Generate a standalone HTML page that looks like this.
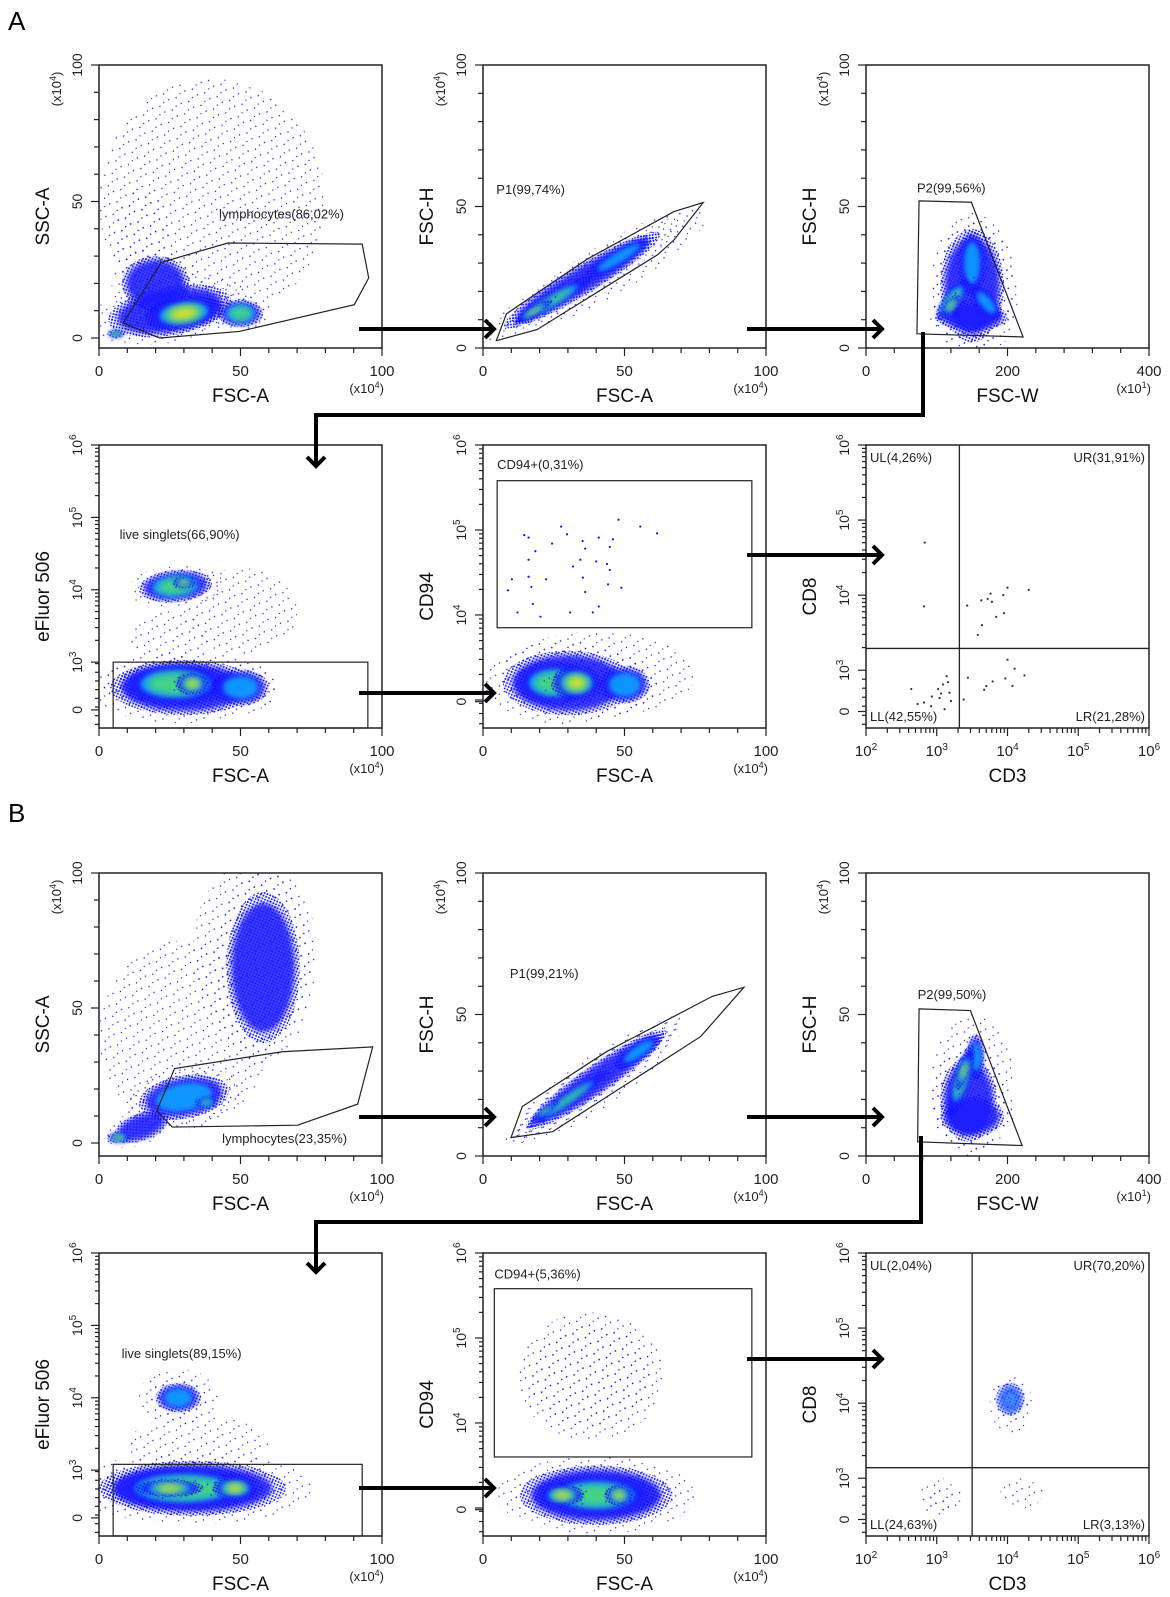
<!DOCTYPE html>
<html><head><meta charset="utf-8"><style>
html,body{margin:0;padding:0;background:#fff}
svg{display:block;font-family:"Liberation Sans",Arial,sans-serif}
</style></head><body>
<svg id="fig" width="1170" height="1597" viewBox="0 0 1170 1597" xmlns="http://www.w3.org/2000/svg">
<defs>
<pattern id="sparse" width="13" height="13" patternUnits="userSpaceOnUse" patternTransform="rotate(17)"><circle cx="2" cy="3" r="0.7" fill="#1010ff"/><circle cx="8.5" cy="7" r="0.7" fill="#1010ff"/><circle cx="4.5" cy="11" r="0.65" fill="#1010ff"/></pattern>
<pattern id="dense" width="3" height="3" patternUnits="userSpaceOnUse" patternTransform="rotate(23)"><circle cx="1.5" cy="1.5" r="0.95" fill="#0a0aff"/></pattern>
<filter id="blur2" x="-50%" y="-50%" width="200%" height="200%"><feGaussianBlur stdDeviation="2.5"/></filter>
<filter id="blur4" x="-50%" y="-50%" width="200%" height="200%"><feGaussianBlur stdDeviation="4"/></filter>
</defs>
<text x="8" y="30" font-size="26">A</text>
<text x="8" y="822" font-size="26">B</text>
<g id="panels"></g>
<g id="arrows" fill="none" stroke="#000" stroke-width="4"></g>
</svg>
<script>
// ---- data (cluster: [cx, cy, rx, ry, angle, peakLevel]) ----
const a1Clusters=[[40,50,40,45,0,0],[15,35,10,20,0,0],[25,10,22,9,-10,1],[20,20,12,10,0,1],[30,9,14,6,-8,4],[50,9,8,5,0,3],[6,1.5,3,1.5,0,4]];
const a1Gate=[[8.5,5.5],[22,27.7],[45.5,34.8],[93,34.4],[95.3,22],[90.2,12.2],[49.6,2.4],[21.4,0]];
const a2Clusters=[[45,28,40,9,-31,0],[35,24,32,5,-31,1],[48,32,14,3,-31,2],[25,17,16,2.5,-31,3],[18,13,8,1.5,-31,4]];
const a2Gate=[[4.7,2.6],[8.3,12.1],[36.8,31.4],[67.5,48.2],[77.8,51.4],[67.5,38.2],[61.6,32.9],[19.1,6.5]];
const a3Clusters=[[155,20,60,25,0,0],[150,22,45,20,0,1],[150,11,50,5,0,1],[150,30,18,12,0,2],[170,16,30,3,50,2],[122,17,37,3,-53,3],[120,15,18,2,-53,4]];
const a3Gate=[[75,52],[149,51.5],[222,3.9],[72,5]];
const a4Clusters=[[25,3.35,14,0.35,0,0],[50,3.7,20,0.6,0,0],[30,2.65,26,0.38,0,1],[27,4.05,13,0.22,-5,3],[30,4.1,4,0.08,0,4],[27,2.7,20,0.3,0,3],[50,2.65,10,0.25,0,2],[33,2.7,6,0.15,0,4]];
const a4Gate=[5,95,2.09,3.0];
const a5Clusters=[[40,3.3,35,0.5,0,0],[30,3.2,23,0.38,0,1],[25,3.2,14,0.25,0,3],[50,3.18,9,0.22,0,2],[33,3.2,9,0.2,0,4]];
const a5Gate=[5,95,3.85,5.58];
const a5Points=[[14.6,4.94],[16.1,4.91],[27.6,5.04],[29.7,4.95],[24.4,4.84],[18.5,4.75],[16.1,4.65],[10.2,4.42],[8.8,4.29],[16.1,4.45],[17.1,4.33],[22.3,4.42],[17.6,4.13],[12.2,4.03],[20.3,3.98],[30.8,4.03],[31.8,4.57],[34.4,4.65],[35.2,4.87],[36.1,4.78],[35.3,4.44],[36.1,4.27],[40.9,4.91],[40.0,4.63],[43.8,4.6],[44.8,4.8],[45.9,4.89],[47.9,5.12],[44.2,4.36],[48.9,4.32],[40.9,4.1],[38.8,4.03],[55.6,5.04],[61.5,4.96],[44.8,4.53]];
const a6Points=[[2.83,4.70],[2.82,3.85],[3.43,3.86],[3.63,3.93],[3.64,3.6],[3.58,3.47],[3.72,3.95],[3.76,4.02],[3.78,3.91],[3.84,3.71],[3.94,4.0],[3.95,3.76],[4.0,4.1],[4.3,4.07],[3.44,2.9],[4.0,3.14],[4.1,3.02],[4.24,2.93],[3.97,2.89],[3.79,2.85],[3.7,2.79],[3.67,2.74],[3.38,2.61],[4.07,2.79],[2.64,2.75],[2.73,2.55],[2.82,2.57],[2.93,2.65],[3.02,2.75],[3.06,2.69],[3.09,2.81],[3.14,2.92],[3.16,2.84],[3.18,2.7],[3.2,2.59],[3.11,2.48],[3.04,2.63],[2.92,2.52]];
const a6Quad=[3.32,3.29];
const a6Labels=["UL(4,26%)","UR(31,91%)","LL(42,55%)","LR(21,28%)"];
const b1Clusters=[[30,40,30,35,0,0],[55,70,22,35,0,0],[58,65,13,28,0,1],[15,6,10,5,-20,1],[30,17,16,8,-10,2],[38,15,4,2,0,3],[7,2,4,2,0,4]];
const b1Gate=[[20.4,11.9],[26.7,27.6],[64.7,33.8],[96.7,35.6],[91.4,14.4],[70.2,6.6],[25.9,5.9]];
const b2Clusters=[[40,26,36,9,-35,0],[40,27,30,5,-35,1],[55,37,10,3,-35,2],[30,20,18,2,-35,3],[22,16,6,1,-35,4]];
const b2Gate=[[9.9,6.5],[13.9,17.5],[43.7,36.9],[81,56.4],[92.2,59.6],[76.9,42.2],[24.6,8.6]];
const b3Clusters=[[150,25,60,25,0,0],[145,20,40,15,0,1],[150,14,45,7,0,1],[155,35,12,8,0,2],[135,27,52,3,-73,3],[138,30,30,1.8,-73,4]];
const b3Gate=[[75,52],[147.6,51.4],[220.7,3.7],[73,5]];
const b4Clusters=[[28,4.0,14,0.4,0,0],[35,3.35,25,0.4,0,0],[33,2.75,33,0.38,0,1],[28,4.0,8,0.2,0,2],[30,2.75,28,0.3,0,3],[48,2.75,8,0.15,0,4],[25,2.75,12,0.12,0,4]];
const b4Gate=[5,93,2.09,3.08];
const b5Clusters=[[38,4.55,26,0.75,0,0],[38,4.55,22,0.6,0,0],[40,3.15,27,0.35,0,1],[40,3.15,22,0.25,0,3],[48,3.15,5,0.12,0,4],[28,3.15,8,0.12,0,4]];
const b5Gate=[4,95,3.6,5.58];
const b6Clusters=[[4.05,4.0,0.3,0.4,0,0],[3.05,2.75,0.3,0.25,0,0],[3.05,2.7,0.2,0.15,0,0],[4.2,2.8,0.3,0.2,0,0],[4.04,4.05,0.2,0.22,0,1],[4.04,4.05,0.1,0.12,0,2],[4.04,4.05,0.04,0.05,0,3]];
const b6Quad=[3.5,3.14];
const b6Labels=["UL(2,04%)","UR(70,20%)","LL(24,63%)","LR(3,13%)"];
const linTicks=[0,50,100];
const fswTicks=[0,200,400];
const logTicks=[3,4,5,6];
const cd3Ticks=[2,3,4,5,6];

// ---- layout ----
const C=[[99,382],[483,766],[866,1149]];
const Rw=[[65,348],[445,728],[873,1156],[1253,1536]];
const LINX={type:'lin',max:100},FSWX={type:'lin',max:400},CD3X={type:'log',min:2,max:6};
const linY=o=>({type:'lin',off:o});
const logY=(mn,z)=>({type:'log',min:mn,zero:z});
const panels=[
 {id:'a1',c:0,r:0,x:LINX,y:linY(10),xt:'FSC-A',yt:'SSC-A',cl:a1Clusters,poly:a1Gate,gl:[42.4,43.7,'lymphocytes(86,02%)']},
 {id:'a2',c:1,r:0,x:LINX,y:linY(0),xt:'FSC-A',yt:'FSC-H',cl:a2Clusters,poly:a2Gate,gl:[4.7,54.5,'P1(99,74%)']},
 {id:'a3',c:2,r:0,x:FSWX,y:linY(0),xt:'FSC-W',yt:'FSC-H',cl:a3Clusters,poly:a3Gate,gl:[72,55,'P2(99,56%)']},
 {id:'a4',c:0,r:1,x:LINX,y:logY(2.09,2.34),xt:'FSC-A',yt:'eFluor 506',cl:a4Clusters,rect:a4Gate,gl:[7.3,4.7,'live singlets(66,90%)']},
 {id:'a5',c:1,r:1,x:LINX,y:logY(2.67,2.98),xt:'FSC-A',yt:'CD94',cl:a5Clusters,pts:a5Points,rect:a5Gate,gl:[5,5.72,'CD94+(0,31%)']},
 {id:'a6',c:2,r:1,x:CD3X,y:logY(2.23,2.45),xt:'CD3',yt:'CD8',cl:[],pts:a6Points,ptColor:'#333',quad:a6Quad,ql:a6Labels},
 {id:'b1',c:0,r:2,x:LINX,y:linY(13),xt:'FSC-A',yt:'SSC-A',cl:b1Clusters,poly:b1Gate,gl:[43.5,0,'lymphocytes(23,35%)']},
 {id:'b2',c:1,r:2,x:LINX,y:linY(0),xt:'FSC-A',yt:'FSC-H',cl:b2Clusters,poly:b2Gate,gl:[9.5,62.9,'P1(99,21%)']},
 {id:'b3',c:2,r:2,x:FSWX,y:linY(0),xt:'FSC-W',yt:'FSC-H',cl:b3Clusters,poly:b3Gate,gl:[73,55.5,'P2(99,50%)']},
 {id:'b4',c:0,r:3,x:LINX,y:logY(2.09,2.34),xt:'FSC-A',yt:'eFluor 506',cl:b4Clusters,rect:b4Gate,gl:[8,4.55,'live singlets(89,15%)']},
 {id:'b5',c:1,r:3,x:LINX,y:logY(2.67,2.98),xt:'FSC-A',yt:'CD94',cl:b5Clusters,rect:b5Gate,gl:[4,5.7,'CD94+(5,36%)']},
 {id:'b6',c:2,r:3,x:CD3X,y:logY(2.23,2.45),xt:'CD3',yt:'CD8',cl:b6Clusters,quad:b6Quad,ql:b6Labels,light:true}
];
const NS='http://www.w3.org/2000/svg';
function mk(tag,attrs,parent){const e=document.createElementNS(NS,tag);for(const k in attrs)e.setAttribute(k,attrs[k]);if(parent)parent.appendChild(e);return e;}
const root=document.getElementById('panels');

panels.forEach(p=>{
 const L=C[p.c][0],R=C[p.c][1],T=Rw[p.r][0],B=Rw[p.r][1];
 const sx=v=>p.x.type==='lin'?L+v/p.x.max*(R-L):L+(v-p.x.min)/(p.x.max-p.x.min)*(R-L);
 const sy=v=>p.y.type==='lin'?(B-p.y.off)-v/100*(B-p.y.off-T):B-(v-p.y.min)/(6-p.y.min)*(B-T);
 const g=mk('g',{},root);
 
 
 const cp=mk('clipPath',{id:'clip-'+p.id},g);mk('rect',{x:L,y:T,width:R-L,height:B-T},cp);
 const dg=mk('g',{'clip-path':'url(#clip-'+p.id+')'},g);
 
 
 const pal=p.light?['#3a70ff','#3fa8ff','#60d8a0','#e8e040']:['#1a1aff','#10a0ff','#50e070','#f0e020'];
 p.cl.forEach(c=>{
  const cx=sx(c[0]),cy=sy(c[1]);
  const rx=Math.abs(sx(c[0]+c[2])-cx),ry=Math.abs(sy(c[1]+c[3])-cy);
  const tr='rotate('+c[4]+' '+cx+' '+cy+')';
  const cg=mk('g',{transform:tr},dg);
  
  
  if(c[5]===0){mk('ellipse',{cx:cx,cy:cy,rx:rx,ry:ry,fill:'url(#sparse)'},cg);return;}
  mk('ellipse',{cx:cx,cy:cy,rx:rx*1.3,ry:ry*1.3,fill:'url(#sparse)'},cg);
  mk('ellipse',{cx:cx,cy:cy,rx:rx,ry:ry,fill:'url(#dense)'},cg);
  mk('ellipse',{cx:cx,cy:cy,rx:rx*0.85,ry:ry*0.85,fill:pal[0],opacity:0.85,filter:'url(#blur2)'},cg);
  if(c[5]>=2)mk('ellipse',{cx:cx,cy:cy,rx:rx*0.62,ry:ry*0.62,fill:pal[1],opacity:0.9,filter:'url(#blur2)'},cg);
  if(c[5]>=3)mk('ellipse',{cx:cx,cy:cy,rx:rx*0.5,ry:ry*0.5,fill:pal[2],opacity:0.85,filter:'url(#blur4)'},cg);
  if(c[5]>=4)mk('ellipse',{cx:cx,cy:cy,rx:rx*0.35,ry:ry*0.35,fill:pal[3],opacity:0.9,filter:'url(#blur4)'},cg);
 });
 (p.pts||[]).forEach(pt=>{
  const d=mk('circle',{cx:sx(pt[0]),cy:sy(pt[1]),r:1.1,fill:p.ptColor||'#1010ff'},dg);
  
  
 });
 const bx=mk('rect',{x:L,y:T,width:R-L,height:B-T,fill:'none',stroke:'#222','stroke-width':1.5},g);
 
 
 if(p.poly){const gp=mk('polygon',{points:p.poly.map(q=>sx(q[0])+','+sy(q[1])).join(' '),fill:'none',stroke:'#222','stroke-width':1.2},g);
  
  }
 if(p.rect){const r=p.rect;const y1=sy(r[3]),y0=Math.min(sy(r[2]),B);
  const gr=mk('rect',{x:sx(r[0]),y:y1,width:sx(r[1])-sx(r[0]),height:y0-y1,fill:'none',stroke:'#222','stroke-width':1.2},g);
  
  }
 if(p.gl){const t=mk('text',{x:sx(p.gl[0]),y:sy(p.gl[1]),'font-size':13,fill:'#222'},g);t.textContent=p.gl[2];
  
  }
 if(p.quad){
  const qx=sx(p.quad[0]),qy=sy(p.quad[1]);
  const l1=mk('line',{x1:qx,y1:T,x2:qx,y2:B,stroke:'#222','stroke-width':1.3},g);
  
  
  const l2=mk('line',{x1:L,y1:qy,x2:R,y2:qy,stroke:'#222','stroke-width':1.3},g);
  
  
  const pos=[[L+4,T+17,'start'],[R-4,T+17,'end'],[L+4,B-7,'start'],[R-4,B-7,'end']];
  p.ql.forEach((s,i)=>{const t=mk('text',{x:pos[i][0],y:pos[i][1],'text-anchor':pos[i][2],'font-size':13,fill:'#222'},g);t.textContent=s;
   
   });
 }
 const ax=mk('g',{stroke:'#222','stroke-width':1.2},g);
 
 
 if(p.x.type==='lin'){
  const step=p.x.max/10;
  for(let i=0;i<=10;i++){const x=sx(i*step);mk('line',{x1:x,y1:B,x2:x,y2:B+(i%5===0?8:5)},ax);}
  (p.x.max===400?fswTicks:linTicks).forEach(v=>{const t=mk('text',{x:sx(v),y:B+28,'text-anchor':'middle','font-size':15,fill:'#222',stroke:'none'},g);t.textContent=v;
   
   });
  const m=mk('text',{x:R+2,y:B+45,'text-anchor':'end','font-size':13,fill:'#222'},g);
  m.innerHTML='(x10<tspan font-size="9" dy="-5">'+(p.x.max===400?1:4)+'</tspan><tspan dy="5">)</tspan>';
  
  
 } else {
  for(let d=2;d<6;d++)for(let k=1;k<10;k++){const x=sx(d+Math.log10(k));mk('line',{x1:x,y1:B,x2:x,y2:B+(k===1?8:5)},ax);}
  mk('line',{x1:R,y1:B,x2:R,y2:B+8},ax);
  cd3Ticks.forEach(v=>{const t=mk('text',{x:sx(v),y:B+28,'text-anchor':'middle','font-size':15,fill:'#222',stroke:'none'},g);
   t.innerHTML='10<tspan font-size="10" dy="-6">'+v+'</tspan>';
   
   });
 }
 const xt=mk('text',{x:(L+R)/2,y:B+54,'text-anchor':'middle','font-size':19,fill:'#111'},g);xt.textContent=p.xt;
 
 
 const ay=mk('g',{stroke:'#222','stroke-width':1.2},g);
 
 
 const ylab=(v,html)=>{const y=sy(v);const t=mk('text',{x:L-17,y:y,'text-anchor':'middle','font-size':14,fill:'#222',transform:'rotate(-90 '+(L-17)+' '+y+')'},g);t.innerHTML=html;
  
  };
 if(p.y.type==='lin'){
  for(let i=0;i<=10;i++){const y=sy(i*10);mk('line',{x1:L,y1:y,x2:L-(i%5===0?8:5),y2:y},ay);}
  linTicks.forEach(v=>ylab(v,String(v)));
  const mx=L-38,my=T+24;
  const m=mk('text',{x:mx,y:my,'text-anchor':'middle','font-size':13,fill:'#222',transform:'rotate(-90 '+mx+' '+my+')'},g);
  m.innerHTML='(x10<tspan font-size="9" dy="-5">4</tspan><tspan dy="5">)</tspan>';
  
  
 } else {
  for(let d=3;d<6;d++)for(let k=1;k<10;k++){const y=sy(d+Math.log10(k));mk('line',{x1:L,y1:y,x2:L-(k===1?8:4),y2:y},ay);}
  mk('line',{x1:L,y1:sy(6),x2:L-8,y2:sy(6)},ay);
  for(let v=p.y.min+0.05;v<3;v+=0.12){const y=sy(v);mk('line',{x1:L,y1:y,x2:L-4,y2:y},ay);}
  mk('line',{x1:L,y1:sy(p.y.zero),x2:L-8,y2:sy(p.y.zero)},ay);
  ylab(p.y.zero,'0');
  logTicks.forEach(v=>{if(v===3&&p.y.zero>2.9)return;ylab(v,'10<tspan font-size="10" dy="-6">'+v+'</tspan>');});
 }
 const ytx=L-50,yty=(T+B)/2+10;
 const yt=mk('text',{x:ytx,y:yty,'text-anchor':'middle','font-size':19,fill:'#111',transform:'rotate(-90 '+ytx+' '+yty+')'},g);yt.textContent=p.yt;
 
 
});

const arrows=[
 [[359,329],[494,329]],[[747,329],[882,329]],[[923,332],[923,415],[316,415],[316,466]],
 [[359,693],[494,693]],[[747,555],[882,555]],
 [[359,1117],[494,1117]],[[747,1117],[882,1117]],[[921,1136],[921,1222],[316,1222],[316,1272]],
 [[359,1488],[494,1488]],[[747,1359],[882,1359]]
];
const ag=document.getElementById('arrows');
arrows.forEach(a=>{
 const pl=mk('polyline',{points:a.map(q=>q.join(',')).join(' ')},ag);
 
 
 const e=a[a.length-1],s=a[a.length-2];
 let h;
 if(e[1]===s[1]) h=[[e[0]-9,e[1]-9],[e[0],e[1]],[e[0]-9,e[1]+9]];
 else h=[[e[0]-9,e[1]-9],[e[0],e[1]],[e[0]+9,e[1]-9]];
 const hd=mk('polyline',{points:h.map(q=>q.join(',')).join(' '),'stroke-linejoin':'miter'},ag);
 
 
});
</script>
</body></html>
